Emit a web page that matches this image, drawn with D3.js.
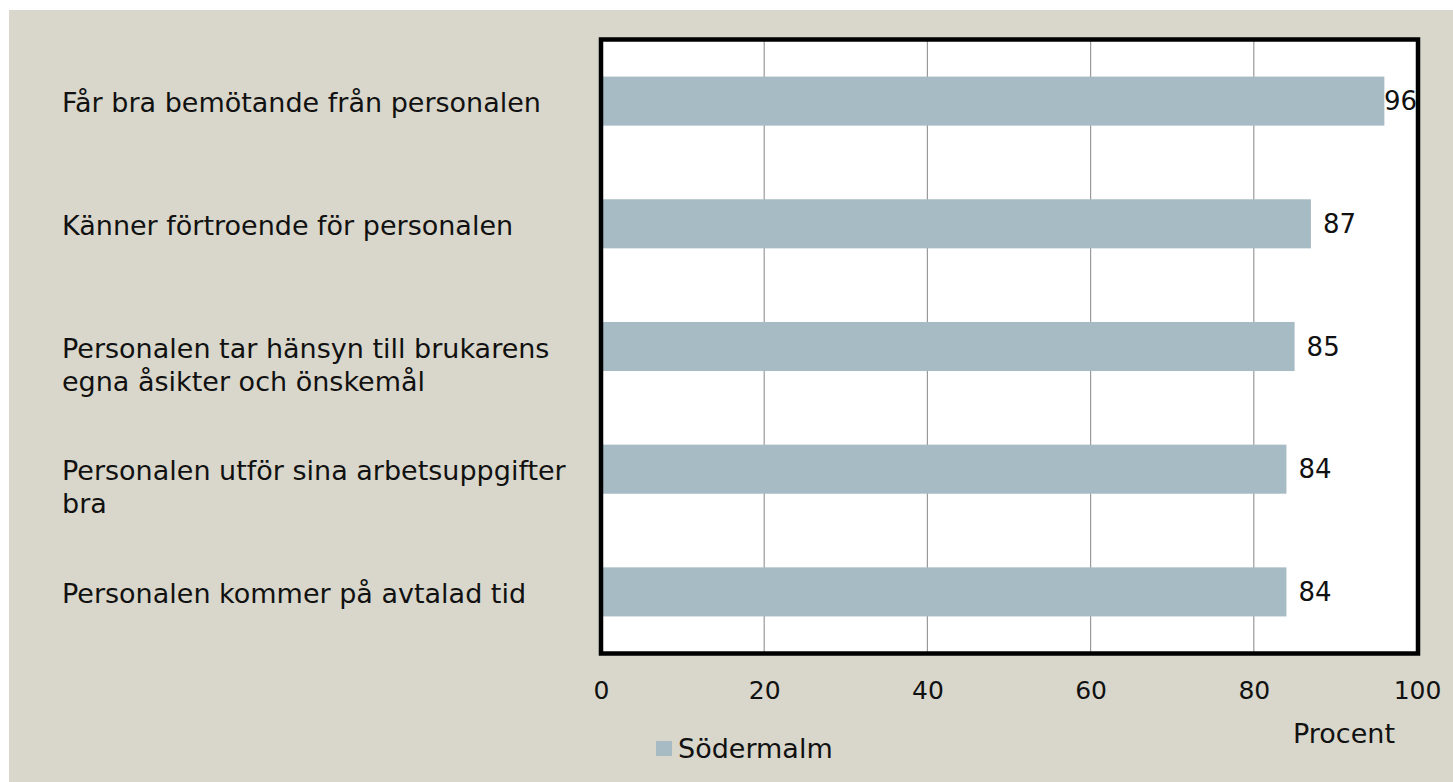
<!DOCTYPE html>
<html>
<head>
<meta charset="utf-8">
<script src="https://cdn.jsdelivr.net/npm/d3@7"></script>
<style>
  body { margin: 0; background: #ffffff; overflow: hidden; }
  svg { display: block; }
  text { font-family: "DejaVu Sans", sans-serif; fill: #111; }
</style>
</head>
<body>
<div id="chart-area"></div>
<script>
// data
const categories = [
  ["Får bra bemötande från personalen"],
  ["Känner förtroende för personalen"],
  ["Personalen tar hänsyn till brukarens", "egna åsikter och önskemål"],
  ["Personalen utför sina arbetsuppgifter", "bra"],
  ["Personalen kommer på avtalad tid"]
];
const values = [96, 87, 85, 84, 84];
const xTicks = [0, 20, 40, 60, 80, 100];
const seriesName = "Södermalm";
const axisTitle = "Procent";

const width = 1453;
const height = 782;
const margin = {top: 41, right: 36, bottom: 130, left: 601};
const innerWidth = 1417 - margin.left;
const innerHeight = 652 - margin.top;

const barColor = "#a7bbc5";

const svg = d3.select('#chart-area')
      .append('svg')
      .attr('width', width)
      .attr('height', height);

// beige panel
svg.append('rect')
  .attr('x', 9).attr('y', 10)
  .attr('width', width - 9).attr('height', height - 10)
  .attr('fill', '#d9d7cb');

const g = svg.append('g')
  .attr('transform', `translate(${margin.left},${margin.top})`);

const x = d3.scaleLinear()
  .domain([0, 100])
  .range([0, innerWidth]);

const y = d3.scaleBand()
  .domain(d3.range(values.length))
  .range([0, innerHeight])
  .paddingInner(0.6)
  .paddingOuter(0.29);

// plot background
g.append('rect')
  .attr('width', innerWidth)
  .attr('height', innerHeight)
  .attr('fill', '#ffffff');

// gridlines
g.selectAll('.grid')
  .data(xTicks.slice(1, -1))
  .enter().append('line')
  .attr('x1', d => x(d)).attr('x2', d => x(d))
  .attr('y1', 0).attr('y2', innerHeight)
  .attr('stroke', '#9a9a9a')
  .attr('stroke-width', 1.2);

// bars
g.selectAll('.bar')
  .data(values)
  .enter().append('rect')
  .attr('x', x(0))
  .attr('y', (d, i) => y(i))
  .attr('width', d => x(d) - x(0))
  .attr('height', y.bandwidth())
  .attr('fill', barColor);

// value labels (kept inside the frame)
g.selectAll('.val')
  .data(values)
  .enter().append('text')
  .attr('x', d => Math.min(x(d) + 12, innerWidth - 33))
  .attr('y', (d, i) => y(i) + y.bandwidth() / 2 + 9)
  .attr('font-size', '26px')
  .text(d => d);

// frame
g.append('rect')
  .attr('x', 0).attr('y', -1.5)
  .attr('width', innerWidth + 1)
  .attr('height', innerHeight + 3)
  .attr('fill', 'none')
  .attr('stroke', '#000')
  .attr('stroke-width', 4.5);

// x axis
const xAxis = d3.axisBottom(x)
  .tickValues(xTicks)
  .tickSize(0);

const ax = g.append('g')
  .attr('transform', `translate(0,${innerHeight})`)
  .call(xAxis);
ax.select('.domain').remove();
ax.selectAll('text')
  .attr('y', 47)
  .attr('dy', null)
  .attr('font-size', '25px')
  .attr('font-family', '"DejaVu Sans", sans-serif')
  .attr('fill', '#111');

// axis title
g.append('text')
  .attr('x', 1293 - margin.left)
  .attr('y', 743 - margin.top)
  .attr('font-size', '27px')
  .text(axisTitle);

// category labels: first line level with the bar, wrapped lines below
const labels = g.selectAll('.cat')
  .data(categories)
  .enter().append('text')
  .attr('x', 62 - margin.left)
  .attr('y', (d, i) => y(i) + y.bandwidth() / 2 + 11)
  .attr('font-size', '27px');

labels.each(function(lines) {
  const t = d3.select(this);
  lines.forEach((line, j) => {
    t.append('tspan')
      .attr('x', 62 - margin.left)
      .attr('dy', j === 0 ? 0 : 33)
      .text(line);
  });
});

// legend
const lg = svg.append('g')
  .attr('transform', 'translate(656,741)');
lg.append('rect')
  .attr('width', 16).attr('height', 15)
  .attr('fill', barColor);
lg.append('text')
  .attr('x', 22).attr('y', 17)
  .attr('font-size', '27px')
  .text(seriesName);
</script>
</body>
</html>
